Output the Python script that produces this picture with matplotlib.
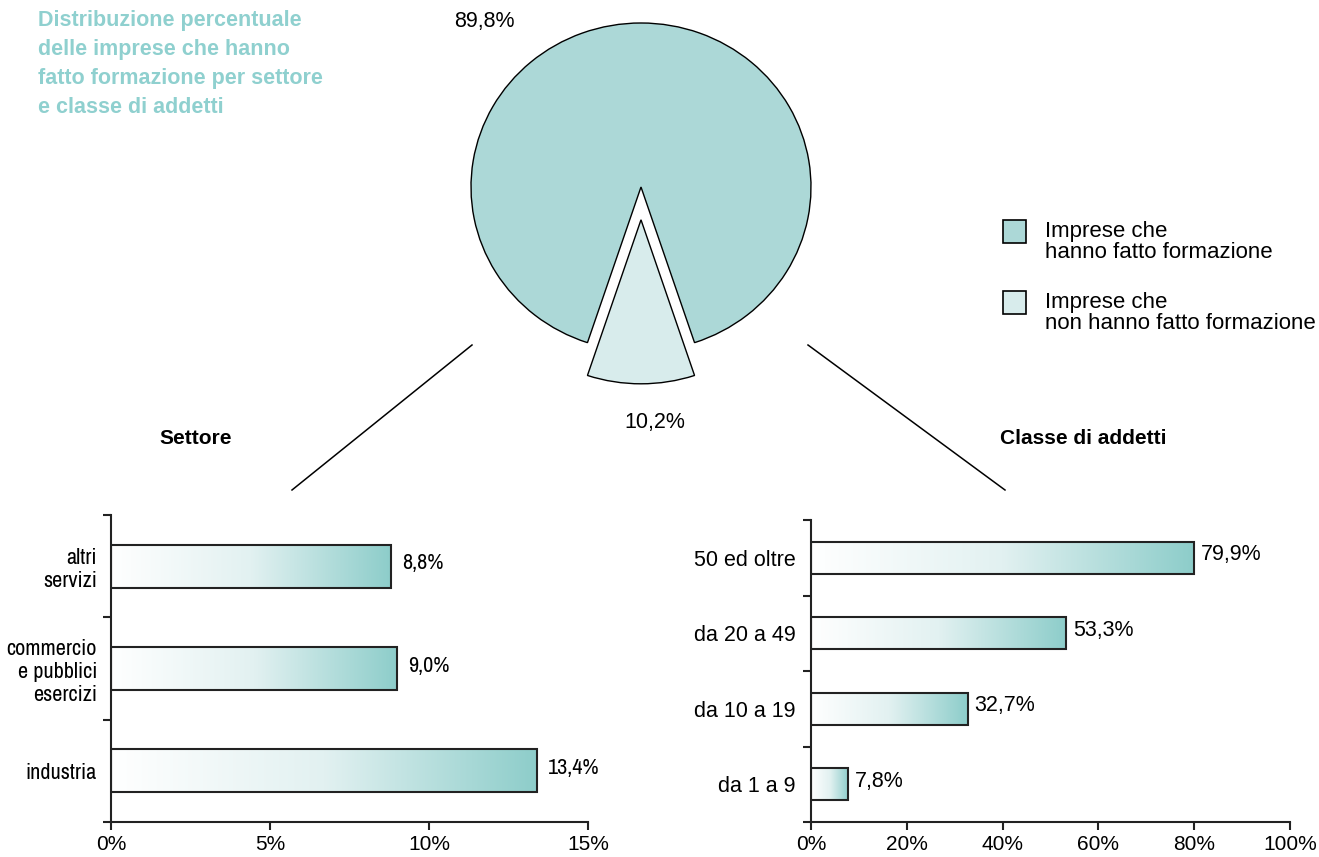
import numpy as np
import matplotlib
matplotlib.use("Agg")
import matplotlib.pyplot as plt
from matplotlib.colors import LinearSegmentedColormap
from matplotlib.patches import Rectangle

plt.rcParams['font.family'] = ['Liberation Sans', 'DejaVu Sans']
REGULAR = ['Liberation Sans', 'DejaVu Sans']
NARROW = ['Liberation Sans Narrow', 'Arial Narrow', 'Archivo Narrow', 'Roboto Condensed',
          'PT Sans Narrow', 'Liberation Sans']

# dati
pie_labels = ["Imprese che\nhanno fatto formazione", "Imprese che\nnon hanno fatto formazione"]
pie_values = [89.8, 10.2]

settori = ["industria", "commercio\ne pubblici\nesercizi", "altri\nservizi"]
settori_val = [13.4, 9.0, 8.8]

classi = ["da 1 a 9", "da 10 a 19", "da 20 a 49", "50 ed oltre"]
classi_val = [7.8, 32.7, 53.3, 79.9]

title = "Distribuzione percentuale\ndelle imprese che hanno\nfatto formazione per settore\ne classe di addetti"

W, H = 1319, 857
FS = 15.5
teal_title = '#8fd0cf'
pie_colors = ['#acd8d7', '#d8ecec']
grad = LinearSegmentedColormap.from_list('grad', ['#ffffff', '#e2f1f1', '#8dcdca'])


def fig_box(x0, y0, x1, y1):
    # box in pixel (origine in alto a sinistra) -> frazione di figura
    return [x0 / W, 1 - y1 / H, (x1 - x0) / W, (y1 - y0) / H]


def pct(v):
    return f"{v:.1f}%".replace('.', ',')


fig = plt.figure(figsize=(W / 100, H / 100), dpi=100)

# overlay in pixel per testi e linee di raccordo
ov = fig.add_axes([0, 0, 1, 1])
ov.set_xlim(0, W)
ov.set_ylim(H, 0)
ov.axis('off')

ov.text(38, 10, title, color=teal_title, fontsize=FS, fontweight='bold',
        va='top', ha='left', linespacing=1.5)

ov.plot([472, 292], [345, 490], color='black', lw=1.1)
ov.plot([808, 1005], [345, 490], color='black', lw=1.1)

ov.text(196, 438, "Settore", fontsize=15, fontweight='bold', ha='center', va='center')
ov.text(1083, 438, "Classe di addetti", fontsize=15, fontweight='bold', ha='center', va='center')

# legenda
for i, (lab, col) in enumerate(zip(pie_labels, pie_colors)):
    y = 220 + i * 71
    ov.add_patch(Rectangle((1003, y), 23, 23, facecolor=col, edgecolor='black', lw=1.2))
    ov.text(1045, y + 1, lab, fontsize=16, va='top', ha='left', linespacing=0.98)

# torta
pax = fig.add_axes(fig_box(471, 23, 811, 351))
start = 270 + pie_values[1] * 3.6 / 2
wedges, _ = pax.pie(pie_values, colors=pie_colors, startangle=start,
                    explode=[0, 0.2], radius=1,
                    wedgeprops=dict(edgecolor='black', linewidth=1.0))
for w in wedges:
    w.set_clip_on(False)
pax.set_xlim(-1, 1)
pax.set_ylim(-1, 1)
pax.set_aspect('auto')
pax.axis('off')

ov.text(484, 21, pct(pie_values[0]), fontsize=FS, ha='center', va='center')
ov.text(655, 422, pct(pie_values[1]), fontsize=FS, ha='center', va='center')


def gradient_bars(ax, values, height, label_font, label_dx, label_fs):
    img = np.linspace(0, 1, 256).reshape(1, -1)
    for i, v in enumerate(values):
        im = ax.imshow(img, extent=[0, v, i - height / 2, i + height / 2],
                       cmap=grad, aspect='auto', zorder=1, interpolation='bilinear')
        im.set_clip_path(Rectangle((0, i - height / 2), v, height, transform=ax.transData))
        ax.add_patch(Rectangle((0, i - height / 2), v, height, fill=False,
                               edgecolor='#222222', lw=1.5, zorder=2))
        ax.annotate(pct(v), (v, i), xytext=(label_dx, 2),
                    textcoords='offset points', ha='left', va='center',
                    fontsize=label_fs, family=label_font)


def style(ax, n, xmax, xstep, labels, label_font, label_fs, pad):
    ax.set_xlim(0, xmax)
    ax.set_ylim(-0.5, n - 0.5)
    for s in ['top', 'right']:
        ax.spines[s].set_visible(False)
    for s in ['left', 'bottom']:
        ax.spines[s].set_linewidth(1.5)
        ax.spines[s].set_color('#222222')
    ticks = np.arange(0, xmax + xstep / 2, xstep)
    ax.set_xticks(ticks)
    ax.set_xticklabels([f"{t:g}%" for t in ticks], fontsize=15)
    ax.set_yticks(np.arange(-0.5, n, 1.0))
    ax.set_yticklabels([])
    ax.set_yticks(np.arange(n), minor=True)
    ax.set_yticklabels(labels, minor=True, fontsize=label_fs, family=label_font)
    ax.tick_params(axis='y', which='minor', length=0, pad=pad)
    ax.tick_params(axis='both', which='major', length=6, width=1.5, color='#222222')
    ax.tick_params(axis='x', pad=3)


ax1 = fig.add_axes(fig_box(111, 515, 588, 822))
gradient_bars(ax1, settori_val, 0.42, NARROW, 8, 16)
style(ax1, len(settori), 15, 5, settori, NARROW, 16, 10)

ax2 = fig.add_axes(fig_box(811, 520, 1290, 822))
gradient_bars(ax2, classi_val, 0.43, REGULAR, 5, FS)
style(ax2, len(classi), 100, 20, classi, REGULAR, FS, 11)

fig.savefig('out.png', dpi=100)
